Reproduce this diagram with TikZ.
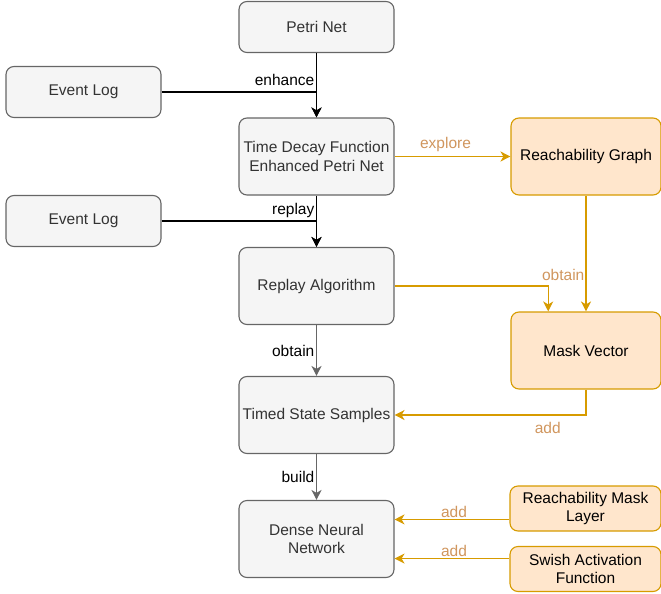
\documentclass[tikz,border=0pt]{standalone}
\usepackage{fontspec}
\setmainfont{Liberation Sans}
\usetikzlibrary{arrows.meta, positioning, calc}
\definecolor{blockgray}{HTML}{F5F5F5}
\definecolor{bordergray}{HTML}{666666}
\definecolor{textgray}{HTML}{333333}
\definecolor{reachfill}{HTML}{FFE6CC}
\definecolor{reachgold}{HTML}{D79B00}
\definecolor{labeltan}{HTML}{D0965E}

\begin{document}
\begin{tikzpicture}[x=1pt, y=-1pt,
    font=\fontsize{15.5}{18.5}\selectfont,
    grayblock/.style={draw=bordergray, fill=blockgray, text=textgray, rounded corners=8pt,
      line width=1.1pt, align=center, inner sep=2pt, minimum width=155pt, minimum height=77pt},
    reachblock/.style={draw=reachgold, fill=reachfill, text=black, rounded corners=8pt,
      line width=1.1pt, align=center, inner sep=2pt, minimum width=150pt, minimum height=77pt},
    tip/.tip={Stealth[length=10pt, width=10pt, inset=3pt]},
    blackflow/.style={draw=black, line width=1.3pt, -tip},
    grayflow/.style={draw=bordergray, line width=1.3pt, -tip},
    goldflow/.style={draw=reachgold, line width=1.3pt, -tip},
    edgelabel/.style={inner sep=1.5pt, text=black},
    goldlabel/.style={inner sep=1.5pt, text=labeltan}]
    \useasboundingbox (0,0) rectangle (661,594);

    % left column of blocks
    \node[grayblock, minimum height=51pt] (petri) at (316.5,27) {Petri Net};
    \node[grayblock, minimum height=51pt] (logA) at (83.5,92) {Event Log};
    \node[grayblock] (tdfnet) at (316.5,156.5) {Time Decay Function\\Enhanced Petri Net};
    \node[grayblock, minimum height=51pt] (logB) at (83.5,221) {Event Log};
    \node[grayblock] (replay) at (316.5,286) {Replay Algorithm};
    \node[grayblock] (samples) at (316.5,415) {Timed State Samples};
    \node[grayblock] (dnn) at (316.5,539) {Dense Neural\\Network};

    % right column of blocks
    \node[reachblock] (reach) at (586,156.5) {Reachability Graph};
    \node[reachblock] (mask) at (586,350.5) {Mask Vector};
    \node[reachblock, minimum width=151pt, minimum height=45pt] (masklayer) at (585.5,508.5) {Reachability Mask\\Layer};
    \node[reachblock, minimum width=151pt, minimum height=45pt] (swish) at (585.5,569) {Swish Activation\\Function};

    % entry points
    \coordinate (maskin) at ($(mask.north west)!0.25!(mask.north east)$);
    \coordinate (dnnA) at ($(dnn.north east)!0.25!(dnn.south east)$);
    \coordinate (dnnB) at ($(dnn.north east)!0.75!(dnn.south east)$);

    % black and gray flows
    \draw[blackflow] (petri) -- (tdfnet);
    \draw[blackflow] (logA.east) -| node[edgelabel, pos=0.5, above left, yshift=4pt] {enhance} (tdfnet.north);
    \draw[blackflow] (tdfnet) -- (replay);
    \draw[blackflow] (logB.east) -| node[edgelabel, pos=0.5, above left, yshift=1pt] {replay} (replay.north);
    \draw[grayflow] (replay) -- node[edgelabel, left] {obtain} (samples);
    \draw[grayflow] (samples) -- node[edgelabel, left] {build} (dnn);

    % gold flows
    \draw[goldflow] (tdfnet) -- node[goldlabel, above, xshift=-7pt, yshift=3pt] {explore} (reach);
    \draw[goldflow] (reach) -- (mask);
    \draw[goldflow] (replay.east) -| node[goldlabel, pos=0.5, above, xshift=15pt, yshift=3pt] {obtain} (maskin);
    \draw[goldflow] (mask.south) |- node[goldlabel, pos=0.6, below, yshift=-5pt] {add} (samples.east);
    \draw[goldflow] (masklayer.west |- dnnA) -- node[goldlabel, above, xshift=2pt] {add} (dnnA);
    \draw[goldflow] (swish.west |- dnnB) -- node[goldlabel, above, xshift=2pt] {add} (dnnB);
\end{tikzpicture}
\end{document}
